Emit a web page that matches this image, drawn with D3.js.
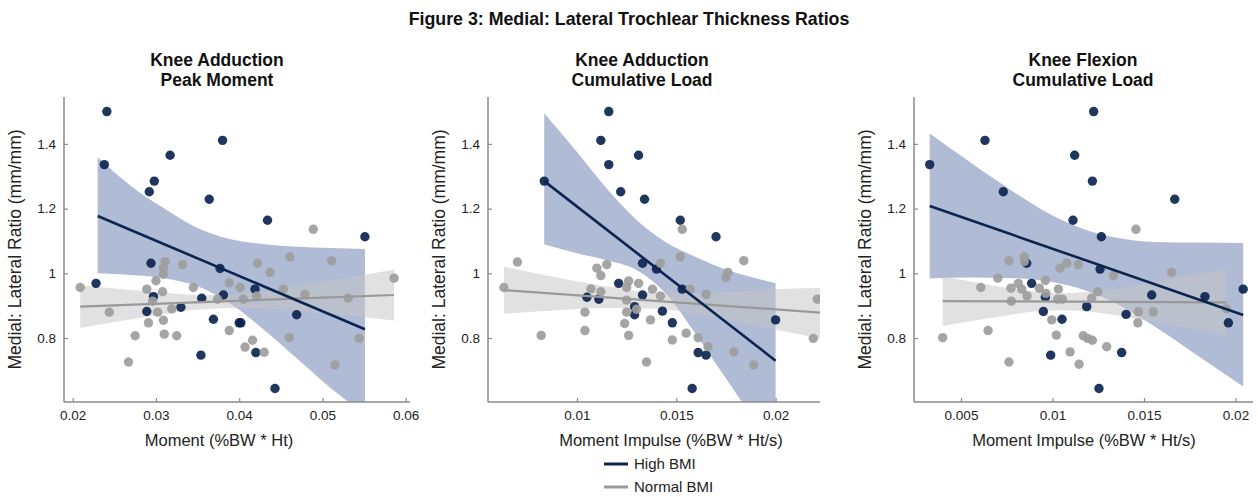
<!DOCTYPE html>
<html><head><meta charset="utf-8">
<script src="https://cdn.jsdelivr.net/npm/d3@7"></script>
<style>
body{margin:0;background:#fff;}
text{font-family:"Liberation Sans",Arial,sans-serif;}
</style></head>
<body><svg id="chart" width="1258" height="497"></svg>
<script>
// ---------- DATA ----------
const mainTitle = "Figure 3: Medial: Lateral Trochlear Thickness Ratios";
const panelTitles = [["Knee Adduction","Peak Moment"],["Knee Adduction","Cumulative Load"],["Knee Flexion","Cumulative Load"]];
const xTitles = ["Moment (%BW * Ht)","Moment Impulse (%BW * Ht/s)","Moment Impulse (%BW * Ht/s)"];
const yTitle = "Medial: Lateral Ratio (mm/mm)";
const yTicks = [0.8, 1, 1.2, 1.4];
const xTicks1 = [0.02, 0.03, 0.04, 0.05, 0.06];
const xTicks2 = [0.01, 0.015, 0.02];
const xTicks3 = [0.005, 0.01, 0.015, 0.02];
const seriesNames = ["High BMI", "Normal BMI"];

// Panel 1: Peak moment
const p1HighX = [0.0241,0.0238,0.0317,0.0298,0.0292,0.0380,0.0364,0.0434,0.0551,0.0294,0.0228,0.0377,0.0381,0.0297,0.0355,0.0330,0.0289,0.0369,0.0400,0.0354,0.0419,0.0402,0.0420,0.0469,0.0443];
const p1HighY = [1.500,1.336,1.365,1.285,1.252,1.411,1.229,1.164,1.113,1.031,0.969,1.015,0.933,0.928,0.923,0.895,0.882,0.858,0.847,0.747,0.951,0.847,0.755,0.872,0.644];
const p1NormX = [0.0489,0.0461,0.0209,0.0244,0.0267,0.0275,0.0291,0.0302,0.0309,0.0310,0.0325,0.0319,0.0289,0.0296,0.0308,0.0300,0.0309,0.0309,0.0311,0.0332,0.0345,0.0374,0.0388,0.0401,0.0388,0.0405,0.0421,0.0422,0.0437,0.0511,0.0453,0.0479,0.0531,0.0586,0.0416,0.0407,0.0430,0.0460,0.0544,0.0515];
const p1NormY = [1.136,1.051,0.956,0.880,0.726,0.807,0.847,0.880,0.855,0.812,0.807,0.890,0.951,0.914,0.943,0.977,0.997,1.017,1.036,1.027,0.956,0.920,0.970,0.956,0.823,0.920,0.930,1.031,1.003,1.039,0.951,0.935,0.923,0.985,0.793,0.772,0.756,0.801,0.799,0.717];
// Panel 2: Adduction cumulative load
const p2HighX = [0.0116,0.0112,0.0131,0.0116,0.00835,0.0122,0.0134,0.0152,0.0170,0.0133,0.0121,0.0133,0.0105,0.0111,0.0129,0.0129,0.0140,0.0153,0.0143,0.0148,0.0161,0.0165,0.0200,0.0158];
const p2HighY = [1.500,1.411,1.365,1.336,1.285,1.252,1.229,1.164,1.113,1.031,0.969,0.933,0.926,0.920,0.897,0.872,1.013,0.951,0.883,0.847,0.755,0.747,0.856,0.644];
const p2NormX = [0.0153,0.0070,0.00632,0.0082,0.0104,0.0104,0.0107,0.0112,0.0110,0.0115,0.0112,0.0126,0.0125,0.0131,0.0125,0.0125,0.0130,0.0124,0.0126,0.0135,0.0137,0.0142,0.0152,0.0138,0.0142,0.0157,0.0165,0.0176,0.0175,0.0184,0.0155,0.0148,0.0161,0.0166,0.0179,0.0189,0.0221,0.0224,0.0219];
const p2NormY = [1.136,1.035,0.956,0.808,0.880,0.823,0.952,0.943,1.016,1.027,0.993,0.976,0.956,0.969,0.917,0.880,0.889,0.845,0.808,0.726,0.856,1.031,1.051,0.951,0.930,0.951,0.935,1.003,0.987,1.039,0.815,0.794,0.801,0.773,0.757,0.717,0.920,0.925,0.799];
// Panel 3: Flexion cumulative load
const p3HighX = [0.00329,0.00631,0.00731,0.01121,0.01112,0.01225,0.01218,0.01668,0.01267,0.00859,0.00886,0.00961,0.00950,0.01052,0.00990,0.01260,0.01542,0.01833,0.02042,0.01187,0.01402,0.01961,0.01378,0.01254];
const p3HighY = [1.336,1.411,1.252,1.365,1.164,1.500,1.285,1.229,1.113,1.031,0.969,0.926,0.882,0.858,0.747,1.013,0.933,0.928,0.951,0.897,0.873,0.847,0.755,0.644];
const p3NormX = [0.01456,0.0040,0.00608,0.00648,0.00701,0.00762,0.00762,0.00773,0.00775,0.00813,0.00832,0.00846,0.00846,0.00861,0.00928,0.00961,0.00964,0.01032,0.01028,0.01054,0.00996,0.01021,0.01041,0.01078,0.01141,0.01096,0.01145,0.01333,0.01247,0.01214,0.01469,0.01551,0.01466,0.01651,0.01950,0.01168,0.01192,0.01218,0.01296];
const p3NormY = [1.136,0.801,0.956,0.823,0.985,1.039,0.726,0.954,0.914,0.969,0.951,1.051,1.037,0.930,0.954,0.978,0.938,0.951,0.920,0.920,0.856,0.809,1.016,1.031,1.027,0.757,0.719,0.993,0.943,0.923,0.881,0.881,0.847,1.003,0.890,0.807,0.799,0.793,0.773];

// Fitted lines and 95% confidence bands
const p1HighFitX = [0.0230,0.0551], p1HighFitY = [1.177,0.827];
const p1HighBandX = [0.0230,0.0270,0.0310,0.0350,0.0390,0.0430,0.0470,0.0510,0.0551];
const p1HighBandLo = [1.000,0.995,0.985,0.960,0.905,0.825,0.735,0.645,0.565];
const p1HighBandHi = [1.359,1.270,1.200,1.140,1.105,1.090,1.082,1.078,1.075];
const p1NormFitX = [0.0209,0.0586], p1NormFitY = [0.897,0.933];
const p1NormBandX = [0.0209,0.0260,0.0310,0.0360,0.0410,0.0460,0.0520,0.0586];
const p1NormBandLo = [0.831,0.853,0.874,0.890,0.893,0.885,0.872,0.854];
const p1NormBandHi = [0.963,0.951,0.940,0.932,0.939,0.957,0.982,1.012];

const p2HighFitX = [0.00835,0.0200], p2HighFitY = [1.285,0.730];
const p2HighBandX = [0.00835,0.0100,0.0115,0.0130,0.0145,0.0160,0.0175,0.0190,0.0200];
const p2HighBandLo = [1.090,1.062,1.040,1.010,0.935,0.810,0.675,0.540,0.450];
const p2HighBandHi = [1.495,1.375,1.262,1.165,1.095,1.050,1.012,0.985,0.969];
const p2NormFitX = [0.00632,0.0224], p2NormFitY = [0.948,0.878];
const p2NormBandX = [0.00632,0.0090,0.0115,0.0138,0.0160,0.0185,0.0205,0.0224];
const p2NormBandLo = [0.875,0.886,0.893,0.891,0.874,0.845,0.820,0.796];
const p2NormBandHi = [1.021,0.987,0.959,0.941,0.938,0.945,0.952,0.955];

const p3HighFitX = [0.00329,0.02042], p3HighFitY = [1.208,0.871];
const p3HighBandX = [0.00329,0.0055,0.0080,0.0100,0.0118,0.0135,0.0155,0.0180,0.02042];
const p3HighBandLo = [0.984,0.987,0.985,0.973,0.947,0.906,0.839,0.743,0.650];
const p3HighBandHi = [1.432,1.343,1.247,1.179,1.135,1.110,1.097,1.095,1.094];
const p3NormFitX = [0.0040,0.0195], p3NormFitY = [0.914,0.910];
const p3NormBandX = [0.0040,0.0065,0.0090,0.0105,0.0125,0.0150,0.0175,0.0195];
const p3NormBandLo = [0.837,0.861,0.882,0.886,0.878,0.855,0.829,0.807];
const p3NormBandHi = [0.991,0.965,0.944,0.938,0.946,0.968,0.993,1.011];

// ---------- DRAW ----------
const NAVY = "#0c2550", GREY = "#9d9d9d", BLUEBAND = "#b0bcd5", GREYBAND = "#c4c4c4";
const svg = d3.select("#chart");
const zip = (a,b) => a.map((v,i)=>[v,b[i]]);
const band = (x,lo,hi) => x.map((v,i)=>({x:v,lo:lo[i],hi:hi[i]}));

const panels = [
  {px:[64,410], xdom:[0.018955,0.060516], ticks:xTicks1, cx:217, xtc:219,
   high:zip(p1HighX,p1HighY), norm:zip(p1NormX,p1NormY),
   hf:zip(p1HighFitX,p1HighFitY), nf:zip(p1NormFitX,p1NormFitY),
   hb:band(p1HighBandX,p1HighBandLo,p1HighBandHi), nb:band(p1NormBandX,p1NormBandLo,p1NormBandHi)},
  {px:[488,820], xdom:[0.005519,0.022236], ticks:xTicks2, cx:642, xtc:671,
   high:zip(p2HighX,p2HighY), norm:zip(p2NormX,p2NormY),
   hf:zip(p2HighFitX,p2HighFitY), nf:zip(p2NormFitX,p2NormFitY),
   hb:band(p2HighBandX,p2HighBandLo,p2HighBandHi), nb:band(p2NormBandX,p2NormBandLo,p2NormBandHi)},
  {px:[914,1253], xdom:[0.002432,0.020956], ticks:xTicks3, cx:1083, xtc:1084,
   high:zip(p3HighX,p3HighY), norm:zip(p3NormX,p3NormY),
   hf:zip(p3HighFitX,p3HighFitY), nf:zip(p3NormFitX,p3NormFitY),
   hb:band(p3HighBandX,p3HighBandLo,p3HighBandHi), nb:band(p3NormBandX,p3NormBandLo,p3NormBandHi)}
];
const yTop = 97, yBot = 402;
const y = d3.scaleLinear().domain([0.6022, 1.545]).range([yBot, yTop]);

svg.append("text").attr("x",629).attr("y",25).attr("text-anchor","middle")
  .attr("font-size",17.8).attr("font-weight","bold").attr("fill","#111").text(mainTitle);

panels.forEach((p,i)=>{
  const x = d3.scaleLinear().domain(p.xdom).range(p.px);
  const g = svg.append("g");
  const clipId = "clip"+i;
  svg.append("clipPath").attr("id",clipId).append("rect")
    .attr("x",p.px[0]).attr("y",yTop).attr("width",p.px[1]-p.px[0]).attr("height",yBot-yTop);
  const plot = g.append("g").attr("clip-path",`url(#${clipId})`);
  const area = d3.area().x(d=>x(d.x)).y0(d=>y(d.lo)).y1(d=>y(d.hi)).curve(d3.curveMonotoneX);
  plot.append("path").datum(p.hb).attr("d",area).attr("fill",BLUEBAND);
  plot.append("path").datum(p.nb).attr("d",area).attr("fill",GREYBAND).attr("fill-opacity",0.5);
  plot.selectAll(".hp").data(p.high).enter().append("circle")
    .attr("cx",d=>x(d[0])).attr("cy",d=>y(d[1])).attr("r",4.7).attr("fill",NAVY).attr("fill-opacity",0.92);
  plot.selectAll(".np").data(p.norm).enter().append("circle")
    .attr("cx",d=>x(d[0])).attr("cy",d=>y(d[1])).attr("r",4.7).attr("fill",GREY).attr("fill-opacity",0.92);
  const line = d3.line().x(d=>x(d[0])).y(d=>y(d[1]));
  plot.append("path").datum(p.nf).attr("d",line).attr("stroke","#999").attr("stroke-width",2.2).attr("fill","none");
  plot.append("path").datum(p.hf).attr("d",line).attr("stroke",NAVY).attr("stroke-width",2.6).attr("fill","none");

  // axes
  const xa = d3.axisBottom(x).tickValues(p.ticks).tickSize(-4).tickPadding(8).tickFormat(d=>String(+d.toFixed(4)));
  const gx = g.append("g").attr("transform",`translate(0,${yBot})`).call(xa);
  gx.select(".domain").attr("d",`M${p.px[0]},0H${p.px[1]}`);
  const ya = d3.axisLeft(y).tickValues(yTicks).tickSize(-4).tickPadding(8).tickFormat(d=>String(d));
  const gy = g.append("g").attr("transform",`translate(${p.px[0]},0)`).call(ya);
  gy.select(".domain").attr("d",`M0,${yTop}V${yBot}`);
  [gx,gy].forEach(a=>{
    a.select(".domain").attr("stroke","#8a8a8a").attr("stroke-width",1.5);
    a.selectAll(".tick line").attr("stroke","#8a8a8a").attr("stroke-width",1.2);
    a.selectAll(".tick text").attr("font-size",13.5).attr("fill","#222").attr("font-family","Liberation Sans, Arial, sans-serif");
  });

  // titles
  const t = svg.append("text").attr("text-anchor","middle").attr("font-size",17.5).attr("font-weight","bold").attr("fill","#111");
  t.append("tspan").attr("x",p.cx).attr("y",66).text(panelTitles[i][0]);
  t.append("tspan").attr("x",p.cx).attr("y",86).text(panelTitles[i][1]);
  svg.append("text").attr("x",p.xtc).attr("y",446).attr("text-anchor","middle")
    .attr("font-size",16.5).attr("fill","#222").text(xTitles[i]);
  svg.append("text").attr("transform",`translate(${p.px[0]-43},${(yTop+yBot)/2}) rotate(-90)`)
    .attr("text-anchor","middle").attr("font-size",17.5).attr("fill","#222").text(yTitle);
});

// legend
const lg = svg.append("g");
[[NAVY,464],["#999",487]].forEach((c,i)=>{
  lg.append("line").attr("x1",604).attr("x2",628).attr("y1",c[1]).attr("y2",c[1]).attr("stroke",c[0]).attr("stroke-width",3);
  lg.append("text").attr("x",634).attr("y",c[1]+5).attr("font-size",15).attr("fill","#222").text(seriesNames[i]);
});
</script></body></html>
